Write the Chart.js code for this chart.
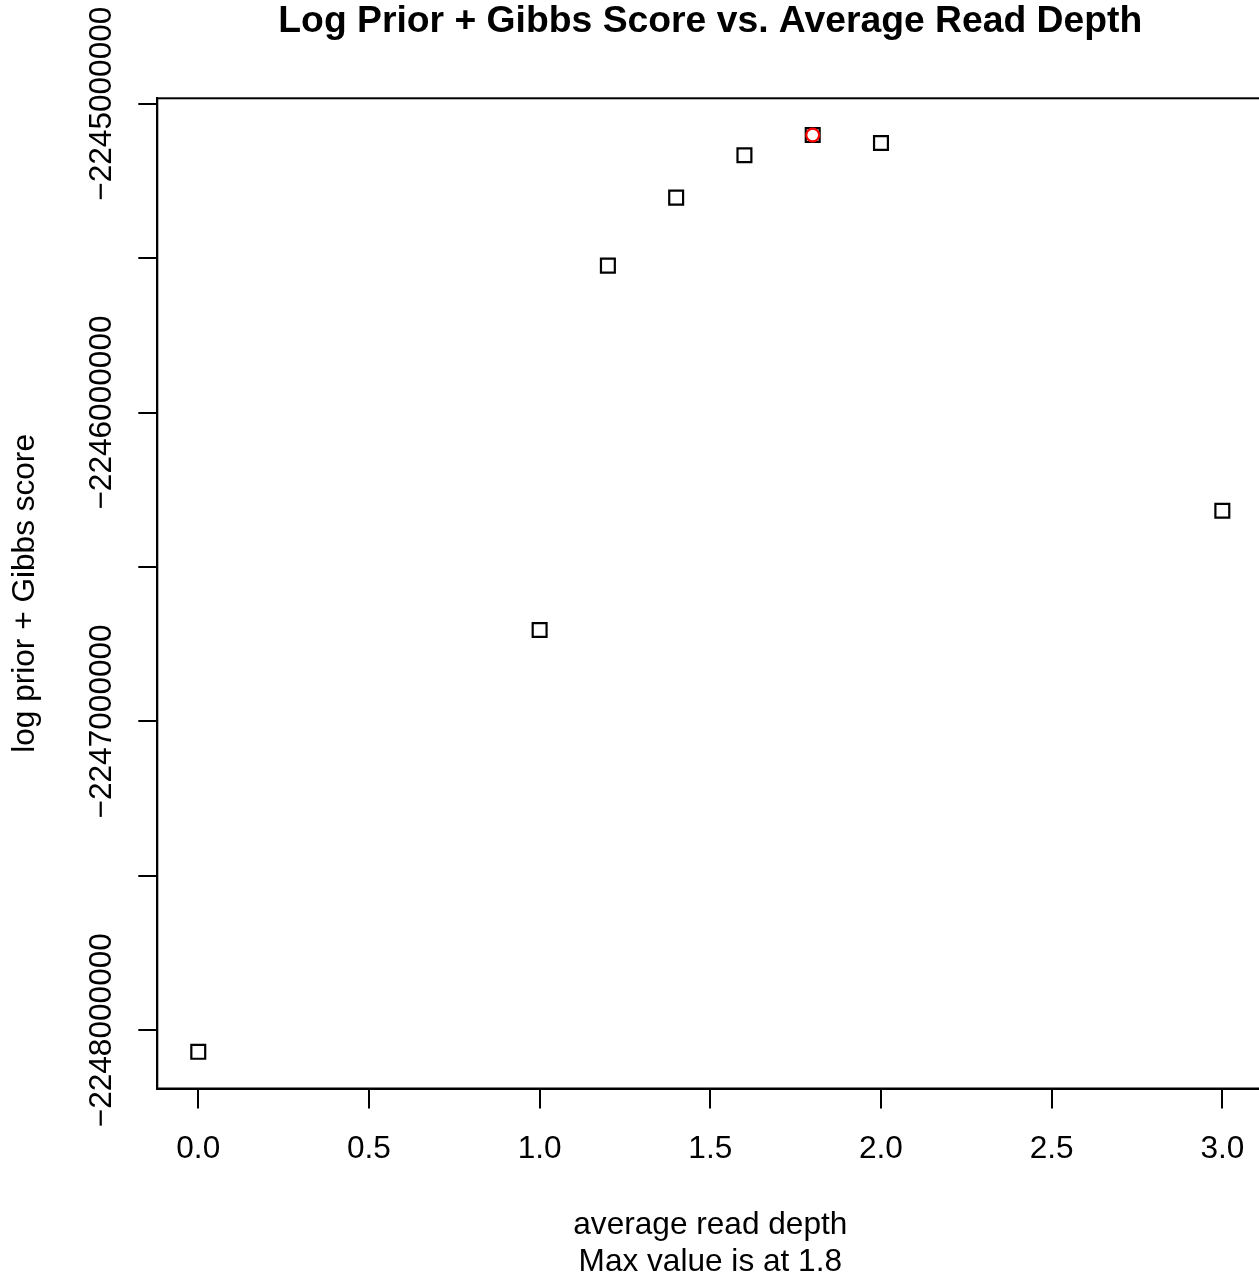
<!DOCTYPE html>
<html>
<head>
<meta charset="utf-8">
<script src="https://cdn.jsdelivr.net/npm/chart.js@4/dist/chart.umd.min.js"></script>
<style>
  html, body { margin: 0; padding: 0; overflow: hidden; background: #fff; }
  #wrap { width: 1300px; height: 1278px; }
</style>
</head>
<body>
<div id="wrap"><canvas id="c" width="1300" height="1278"></canvas></div>
<script>
// ---- data ----
const depths = [0.0, 1.0, 1.2, 1.4, 1.6, 1.8, 2.0, 3.0];
const scores = [-2248069900, -2246704210, -2245524270, -2245304210, -2245166990, -2245101290, -2245127180, -2246318120];
const xTickValues = [0, 0.5, 1.0, 1.5, 2.0, 2.5, 3.0];
const xTickLabels = ['0.0', '0.5', '1.0', '1.5', '2.0', '2.5', '3.0'];
const yTickValues = [-2248000000, -2247500000, -2247000000, -2246500000, -2246000000, -2245500000, -2245000000];
const yTickLabels = ['\u22122248000000', '', '\u22122247000000', '', '\u22122246000000', '', '\u22122245000000'];
const titleText = 'Log Prior + Gibbs Score vs. Average Read Depth';
const xTitle = ['average read depth', 'Max value is at 1.8'];
const yTitle = 'log prior + Gibbs score';

// maximum point
let maxIdx = 0;
scores.forEach((v, i) => { if (v > scores[maxIdx]) maxIdx = i; });

// R-style 4% axis extension
const xr = [Math.min(...depths), Math.max(...depths)];
const yr = [Math.min(...scores), Math.max(...scores)];
const xPad = (xr[1] - xr[0]) * 0.04, yPad = (yr[1] - yr[0]) * 0.04;

const FONT = "'Liberation Sans', Arial, Helvetica, sans-serif";
const AX = 31.6;

const framePlugin = {
  id: 'frame',
  afterDraw(chart) {
    const {ctx, chartArea: a} = chart;
    ctx.save();
    ctx.strokeStyle = '#000';
    ctx.lineWidth = 2;
    ctx.strokeRect(a.left, a.top, a.right - a.left, a.bottom - a.top);
    // rotated y tick labels (parallel to axis, R style)
    const ys = chart.scales.y;
    ctx.fillStyle = '#000';
    ctx.font = AX + 'px ' + FONT;
    ctx.textAlign = 'center';
    ctx.textBaseline = 'middle';
    yTickValues.forEach((v, i) => {
      if (!yTickLabels[i]) return;
      const py = ys.getPixelForValue(v);
      ctx.save();
      ctx.translate(102, py);
      ctx.rotate(-Math.PI / 2);
      ctx.fillText(yTickLabels[i], 0, 0);
      ctx.restore();
    });
    ctx.restore();
  }
};

new Chart(document.getElementById('c'), {
  type: 'scatter',
  data: {
    datasets: [
      {
        label: 'max',
        data: [{x: depths[maxIdx], y: scores[maxIdx]}],
        pointStyle: 'circle',
        pointRadius: 6.4,
        borderColor: '#ff0000',
        backgroundColor: 'rgba(0,0,0,0)',
        borderWidth: 2.2
      },
      {
        label: 'score',
        data: depths.map((d, i) => ({x: d, y: scores[i]})),
        pointStyle: 'rect',
        pointRadius: 9.8,
        borderColor: '#000',
        backgroundColor: 'rgba(0,0,0,0)',
        borderWidth: 2.2
      }
    ]
  },
  options: {
    responsive: false,
    devicePixelRatio: 1,
    animation: false,
    layout: { padding: { left: 0, right: 36.7, top: 0, bottom: 0 } },
    plugins: {
      legend: { display: false },
      tooltip: { enabled: false },
      title: {
        display: true,
        fullSize: false,
        text: titleText,
        color: '#000',
        font: { family: FONT, size: 37.3, weight: 'bold', lineHeight: 1.0 },
        padding: { top: 3, bottom: 58 }
      }
    },
    scales: {
      x: {
        type: 'linear',
        min: xr[0] - xPad,
        max: xr[1] + xPad,
        afterFit: s => { s.height = 189.5; },
        afterBuildTicks: s => { s.ticks = xTickValues.map(v => ({value: v})); },
        ticks: {
          color: '#000',
          font: { family: FONT, size: AX },
          padding: 22,
          maxRotation: 0,
          autoSkip: false,
          callback: (v) => { const i = xTickValues.indexOf(v); return i >= 0 ? xTickLabels[i] : ''; }
        },
        grid: { drawOnChartArea: false, drawTicks: true, tickLength: 20, color: '#000', lineWidth: 2 },
        border: { display: true, color: '#000', width: 2 },
        title: {
          display: true,
          text: xTitle,
          color: '#000',
          font: { family: FONT, size: AX, lineHeight: 37 / AX },
          padding: { top: 0, bottom: -3 }
        }
      },
      y: {
        type: 'linear',
        min: yr[0] - yPad,
        max: yr[1] + yPad,
        afterFit: s => { s.width = 157.3; },
        afterBuildTicks: s => { s.ticks = yTickValues.map(v => ({value: v})); },
        ticks: { display: false },
        grid: { drawOnChartArea: false, drawTicks: true, tickLength: 19, color: '#000', lineWidth: 2 },
        border: { display: true, color: '#000', width: 2 },
        title: {
          display: true,
          text: yTitle,
          color: '#000',
          font: { family: FONT, size: AX, lineHeight: 37 / AX },
          padding: { top: 7, bottom: 0 }
        }
      }
    }
  },
  plugins: [framePlugin]
});
</script>
</body>
</html>
